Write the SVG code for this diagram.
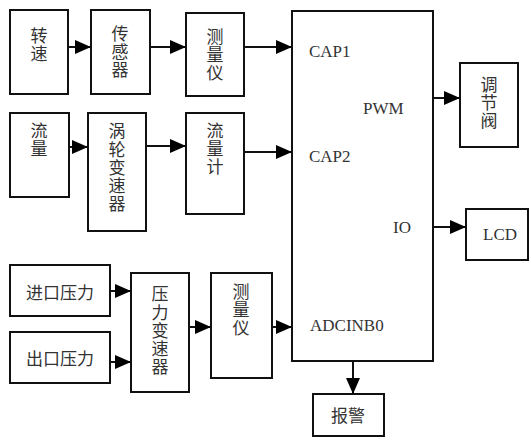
<svg xmlns="http://www.w3.org/2000/svg" width="531" height="441" viewBox="0 0 531 441">
<defs>
<marker id="ah" markerUnits="userSpaceOnUse" markerWidth="16" markerHeight="14" refX="16" refY="7" orient="auto">
<path d="M0,0 L16,7 L0,14 z" fill="#000"/>
</marker>
<style>
rect{fill:#fff;stroke:#111;stroke-width:2}
.c{font-family:"Noto Sans CJK SC","Noto Sans CJK TC",sans-serif;font-size:17px;fill:#333;text-anchor:middle;dominant-baseline:central}
.v{font-family:"Noto Sans CJK SC","Noto Sans CJK TC",sans-serif;font-size:17px;fill:#333;text-anchor:middle;writing-mode:vertical-rl;letter-spacing:1.3px}
.e{font-family:"Liberation Serif",serif;font-size:17px;fill:#333}
line{stroke:#111;stroke-width:2;marker-end:url(#ah)}
</style>
</defs>
<rect x="0" y="0" width="531" height="441" style="stroke:none"/>
<g id="n-zhuansu"><rect x="10" y="10" width="58" height="84"/><text class="v" x="39" y="45">转速</text></g>
<g id="n-chuanganqi"><rect x="91" y="10" width="59" height="84"/><text class="v" x="120" y="52">传感器</text></g>
<g id="n-celiangyi1"><rect x="186" y="13" width="58" height="83"/><text class="v" x="215" y="55">测量仪</text></g>
<g id="n-liuliang"><rect x="10" y="113" width="59" height="84"/><text class="v" x="39" y="140">流量</text></g>
<g id="n-wolun"><rect x="88" y="113" width="58" height="118"/><text class="v" x="117" y="168">涡轮变速器</text></g>
<g id="n-liuliangji"><rect x="186" y="113" width="58" height="101"/><text class="v" x="215" y="149">流量计</text></g>
<g id="n-jinkou"><rect x="10" y="265" width="100" height="51"/><text class="c" x="60" y="291">进口压力</text></g>
<g id="n-chukou"><rect x="10" y="332" width="100" height="51"/><text class="c" x="60" y="357">出口压力</text></g>
<g id="n-yali"><rect x="131" y="273" width="58" height="119"/><text class="v" x="160" y="331">压力变速器</text></g>
<g id="n-celiangyi2"><rect x="211" y="273" width="61" height="105"/><text class="v" x="241" y="310">测量仪</text></g>
<g id="n-mcu"><rect x="292" y="11" width="141" height="350"/>
<text class="e" x="309" y="57">CAP1</text>
<text class="e" x="363" y="114">PWM</text>
<text class="e" x="309" y="162">CAP2</text>
<text class="e" x="393" y="233">IO</text>
<text class="e" x="310" y="331">ADCINB0</text></g>
<g id="n-tiaojiefa"><rect x="460" y="63" width="58" height="84"/><text class="v" x="489" y="103">调节阀</text></g>
<g id="n-lcd"><rect x="466" y="209" width="62" height="51"/><text class="e" x="483" y="240">LCD</text></g>
<g id="n-baojing"><rect x="313" y="394" width="71" height="42"/><text class="c" x="348" y="414">报警</text></g>
<g id="connectors">
<line x1="68" y1="47" x2="91" y2="47"/>
<line x1="150" y1="47" x2="186" y2="47"/>
<line x1="244" y1="47" x2="292" y2="47"/>
<line x1="69" y1="147" x2="88" y2="147"/>
<line x1="146" y1="146" x2="186" y2="146"/>
<line x1="244" y1="152" x2="292" y2="152"/>
<line x1="110" y1="291" x2="131" y2="291"/>
<line x1="110" y1="362" x2="131" y2="362"/>
<line x1="189" y1="327" x2="211" y2="327"/>
<line x1="272" y1="327" x2="292" y2="327"/>
<line x1="433" y1="98" x2="460" y2="98"/>
<line x1="433" y1="227" x2="466" y2="227"/>
<line x1="353" y1="361" x2="353" y2="394"/>
</g>
</svg>
